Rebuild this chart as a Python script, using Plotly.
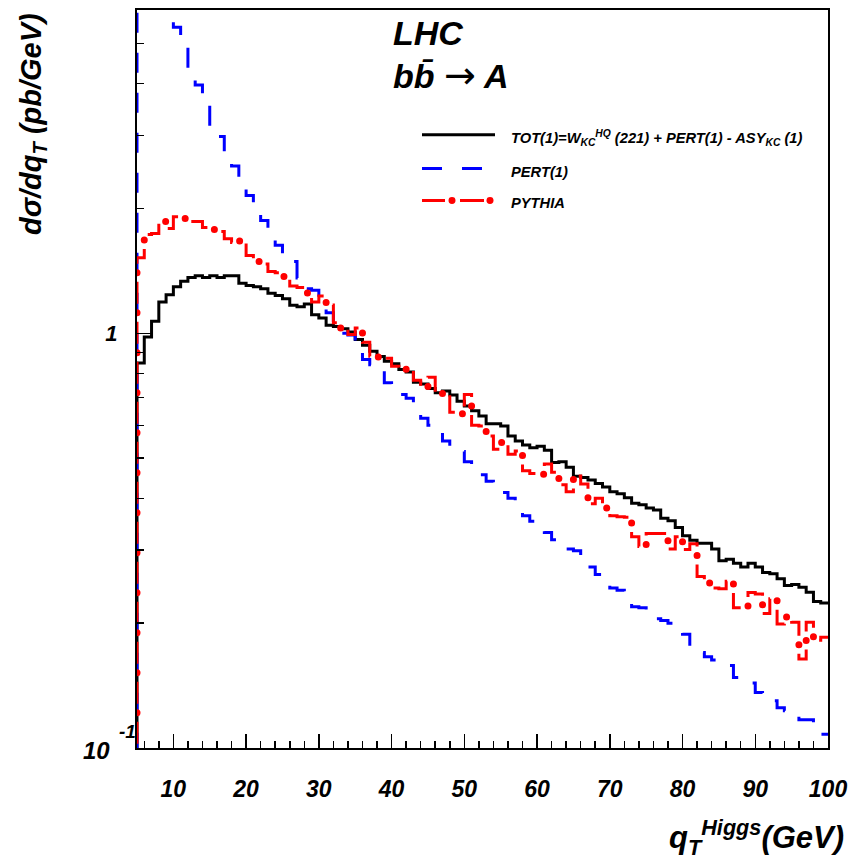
import plotly.graph_objects as go

# ---------------- data ----------------
qt_edges = list(range(5, 101))          # 1 GeV bins from 5 to 100 GeV

tot = [0.848, 0.98, 1.069, 1.19, 1.239, 1.295, 1.334, 1.363, 1.376, 1.363,
       1.376, 1.363, 1.376, 1.376, 1.321, 1.304, 1.295, 1.28, 1.248, 1.234,
       1.212, 1.168, 1.159, 1.176, 1.109, 1.089, 1.045, 1.038, 1.026, 1.007,
       0.966, 0.936, 0.905, 0.879, 0.856, 0.844, 0.818, 0.807, 0.762, 0.755,
       0.736, 0.719, 0.726, 0.71, 0.686, 0.668, 0.65, 0.632, 0.605, 0.605,
       0.598, 0.565, 0.55, 0.538, 0.53, 0.534, 0.522, 0.488, 0.49, 0.475,
       0.452, 0.449, 0.443, 0.434, 0.426, 0.415, 0.41, 0.401, 0.389, 0.386,
       0.379, 0.375, 0.358, 0.353, 0.34, 0.325, 0.317, 0.3115, 0.3115, 0.302,
       0.283, 0.285, 0.279, 0.273, 0.279, 0.273, 0.265, 0.263, 0.256, 0.2465,
       0.248, 0.244, 0.2375, 0.2256, 0.2236]

pert = [12.0, 9.5, 8.0, 7.0, 6.2, 5.47, 5.18, 4.2, 3.97, 3.65,
        3.15, 2.98, 2.74, 2.53, 2.32, 2.15, 2.0, 1.87, 1.76, 1.63,
        1.56, 1.49, 1.36, 1.28, 1.27, 1.19, 1.12, 1.06, 1.0, 0.99,
        0.93, 0.865, 0.84, 0.815, 0.76, 0.723, 0.712, 0.697, 0.637, 0.624,
        0.60, 0.579, 0.55, 0.53, 0.519, 0.49, 0.469, 0.456, 0.44, 0.425,
        0.413, 0.40, 0.385, 0.363, 0.352, 0.339, 0.331, 0.318, 0.304, 0.302,
        0.299, 0.286, 0.273, 0.262, 0.248, 0.243, 0.24, 0.236, 0.219, 0.218,
        0.211, 0.205, 0.203, 0.20, 0.192, 0.188, 0.175, 0.17, 0.166, 0.163,
        0.16, 0.158, 0.148, 0.146, 0.1435, 0.136, 0.133, 0.13, 0.125, 0.123,
        0.12, 0.117, 0.117, 0.115, 0.108]

pythia = [1.52, 1.73, 1.74, 1.86, 1.79, 1.91, 1.89, 1.86, 1.86, 1.80,
          1.78, 1.76, 1.69, 1.655, 1.67, 1.54, 1.49, 1.47, 1.41, 1.40,
          1.37, 1.30, 1.29, 1.25, 1.19, 1.23, 1.17, 1.06, 1.03, 0.993,
          1.03, 0.951, 0.88, 0.876, 0.87, 0.833, 0.825, 0.818, 0.77, 0.742,
          0.783, 0.716, 0.712, 0.645, 0.64, 0.712, 0.60, 0.598, 0.565, 0.525,
          0.545, 0.511, 0.52, 0.466, 0.459, 0.457, 0.484, 0.462, 0.431, 0.415,
          0.453, 0.433, 0.388, 0.40, 0.379, 0.363, 0.361, 0.36, 0.323, 0.306,
          0.329, 0.329, 0.329, 0.302, 0.323, 0.301, 0.311, 0.259, 0.25, 0.243,
          0.242, 0.2525, 0.218, 0.218, 0.237, 0.235, 0.211, 0.229, 0.199, 0.207,
          0.201, 0.164, 0.201, 0.182, 0.185]

x_ticks = [10, 20, 30, 40, 50, 60, 70, 80, 90, 100]
x_ticktext = ["10", "20", "30", "40", "50", "60", "70", "80", "90", "100"]
y_minor_vals = [0.2, 0.3, 0.4, 0.5, 0.6, 0.7, 0.8, 0.9, 2, 3, 4, 5]

# ---------------- geometry helpers ----------------
W, H = 856, 859
L, R, T, B = 137, 28, 8, 111
PW, PH = W - L - R, H - T - B


def px(xp):
    return (xp - L) / PW


def py(yp):
    return (H - B - yp) / PH


FONT = "Liberation Sans, Arial, Helvetica, sans-serif"
BASE = 0.05


def outline(vals):
    xs = [qt_edges[0]] + qt_edges[:-1] + [qt_edges[-1]]
    ys = [BASE] + list(vals) + [vals[-1]]
    return xs, ys


fig = go.Figure()

xs, ys = outline(tot)
fig.add_trace(go.Scatter(x=xs, y=ys, mode="lines", line_shape="hv",
                         line=dict(color="black", width=3), showlegend=False,
                         hoverinfo="skip"))
xs, ys = outline(pert)
fig.add_trace(go.Scatter(x=xs, y=ys, mode="lines", line_shape="hv",
                         line=dict(color="#0000ff", width=3, dash="20px,20px"),
                         showlegend=False, hoverinfo="skip"))
xs, ys = outline(pythia)
fig.add_trace(go.Scatter(x=xs, y=ys, mode="lines", line_shape="hv",
                         line=dict(color="#ff0000", width=3, dash="0px,9px,22px,9px"),
                         showlegend=False, hoverinfo="skip"))
fig.add_trace(go.Scatter(x=xs, y=ys, mode="lines", line_shape="hv",
                         line=dict(color="#ff0000", width=7, dash="0px,40px"),
                         showlegend=False, hoverinfo="skip"))

fig.update_layout(
    width=W, height=H,
    margin=dict(l=L, r=R, t=T, b=B),
    paper_bgcolor="white", plot_bgcolor="white",
    font=dict(family=FONT, color="black"),
    xaxis=dict(range=[5, 100], tickmode="array", tickvals=x_ticks,
               ticktext=x_ticktext, ticks="inside", ticklen=14, tickwidth=1.5,
               tickcolor="black", showgrid=False, zeroline=False,
               showline=True, linecolor="black", linewidth=2, mirror=True,
               ticklabelstandoff=19,
               tickfont=dict(size=23, family=FONT, weight="bold", style="italic"),
               minor=dict(dtick=2, tick0=0, ticks="inside", ticklen=7,
                          tickwidth=1.5, tickcolor="black", showgrid=False)),
    yaxis=dict(type="log", range=[-1, 0.7795], tickmode="array",
               tickvals=[0.1, 1], ticktext=["", "1"], ticks="inside",
               ticklen=14, tickwidth=1.5, tickcolor="black", showgrid=False,
               zeroline=False, showline=True, linecolor="black", linewidth=2,
               mirror=True, ticklabelstandoff=13,
               tickfont=dict(size=22, family=FONT, weight="bold", style="italic"),
               minor=dict(tickmode="array", tickvals=y_minor_vals, ticks="inside",
                          ticklen=7, tickwidth=1.5, tickcolor="black",
                          showgrid=False)),
)

ann = []
# 10^-1 tick label (ROOT style: mantissa low, exponent raised next to the axis)
ann.append(dict(x=px(112), y=py(751), xref="paper", yref="paper",
                text="<b><i>10</i></b>", showarrow=False,
                xanchor="right", yanchor="middle",
                font=dict(size=24, family=FONT)))
ann.append(dict(x=px(138), y=py(731), xref="paper", yref="paper",
                text="<b><i>-1</i></b>", showarrow=False,
                xanchor="right", yanchor="middle",
                font=dict(size=19, family=FONT)))
# axis titles
ann.append(dict(x=px(33), y=py(9), xref="paper", yref="paper",
                text="<b><i>d\u03c3/dq<sub>T</sub> (pb/GeV)</i></b>",
                textangle=-90, showarrow=False, xanchor="center", yanchor="top",
                font=dict(size=29, family=FONT)))
ann.append(dict(x=px(846), y=py(838), xref="paper", yref="paper",
                text="<b><i>q<sub>T</sub><sup>Higgs</sup>(GeV)</i></b>",
                showarrow=False, xanchor="right", yanchor="middle",
                font=dict(size=31, family=FONT)))
# process labels
ann.append(dict(x=px(391), y=py(31), xref="paper", yref="paper",
                text="<b><i>LHC</i></b>", showarrow=False, xanchor="left",
                yanchor="middle", font=dict(size=34, family=FONT)))
ann.append(dict(x=px(391), y=py(73), xref="paper", yref="paper",
                text="<b><i>bb\u0304 <span style='font-family:DejaVu Sans;font-weight:normal;font-size:38px'>\u2192</span> A</i></b>",
                showarrow=False,
                xanchor="left", yanchor="middle", font=dict(size=34, family=FONT)))
# legend texts
leg_texts = [
    "<b><i>TOT(1)=W<sub>KC</sub><sup>HQ</sup> (221) + PERT(1) - ASY<sub>KC</sub> (1)</i></b>",
    "<b><i>PERT(1)</i></b>",
    "<b><i>PYTHIA</i></b>",
]
leg_y = [136, 170, 202]
for t, yy in zip(leg_texts, leg_y):
    ann.append(dict(x=px(509), y=py(yy), xref="paper", yref="paper", text=t,
                    showarrow=False, xanchor="left", yanchor="middle",
                    font=dict(size=14.7, family=FONT)))
fig.update_layout(annotations=ann)

# legend samples
shapes = [
    dict(type="line", xref="paper", yref="paper", x0=px(422), x1=px(495),
         y0=py(133), y1=py(133), line=dict(color="black", width=3)),
    dict(type="line", xref="paper", yref="paper", x0=px(422), x1=px(482),
         y0=py(167), y1=py(167), line=dict(color="#0000ff", width=3, dash="20px,20px")),
    dict(type="line", xref="paper", yref="paper", x0=px(422), x1=px(445),
         y0=py(199), y1=py(199), line=dict(color="#ff0000", width=3)),
    dict(type="line", xref="paper", yref="paper", x0=px(460), x1=px(484),
         y0=py(199), y1=py(199), line=dict(color="#ff0000", width=3)),
]
for cx in (452, 490):
    shapes.append(dict(type="circle", xref="paper", yref="paper",
                       x0=px(cx - 3.5), x1=px(cx + 3.5), y0=py(199 + 3.5),
                       y1=py(199 - 3.5), fillcolor="#ff0000",
                       line=dict(color="#ff0000", width=0)))
fig.update_layout(shapes=shapes)

post = """
document.body.style.margin = '0';
document.body.style.padding = '0';
var gd = document.getElementById('{plot_id}');
function fixCaps(){
  var tr = gd.querySelectorAll('.scatterlayer .trace');
  if (tr.length > 3) {
    tr[3].querySelectorAll('path.js-line').forEach(function(p){
      p.style.strokeLinecap = 'round';
    });
  }
}
fixCaps();
if (gd.on) { gd.on('plotly_afterplot', fixCaps); }
"""

fig.write_html("out.html", post_script=post,
               config={"displayModeBar": False, "staticPlot": True})
